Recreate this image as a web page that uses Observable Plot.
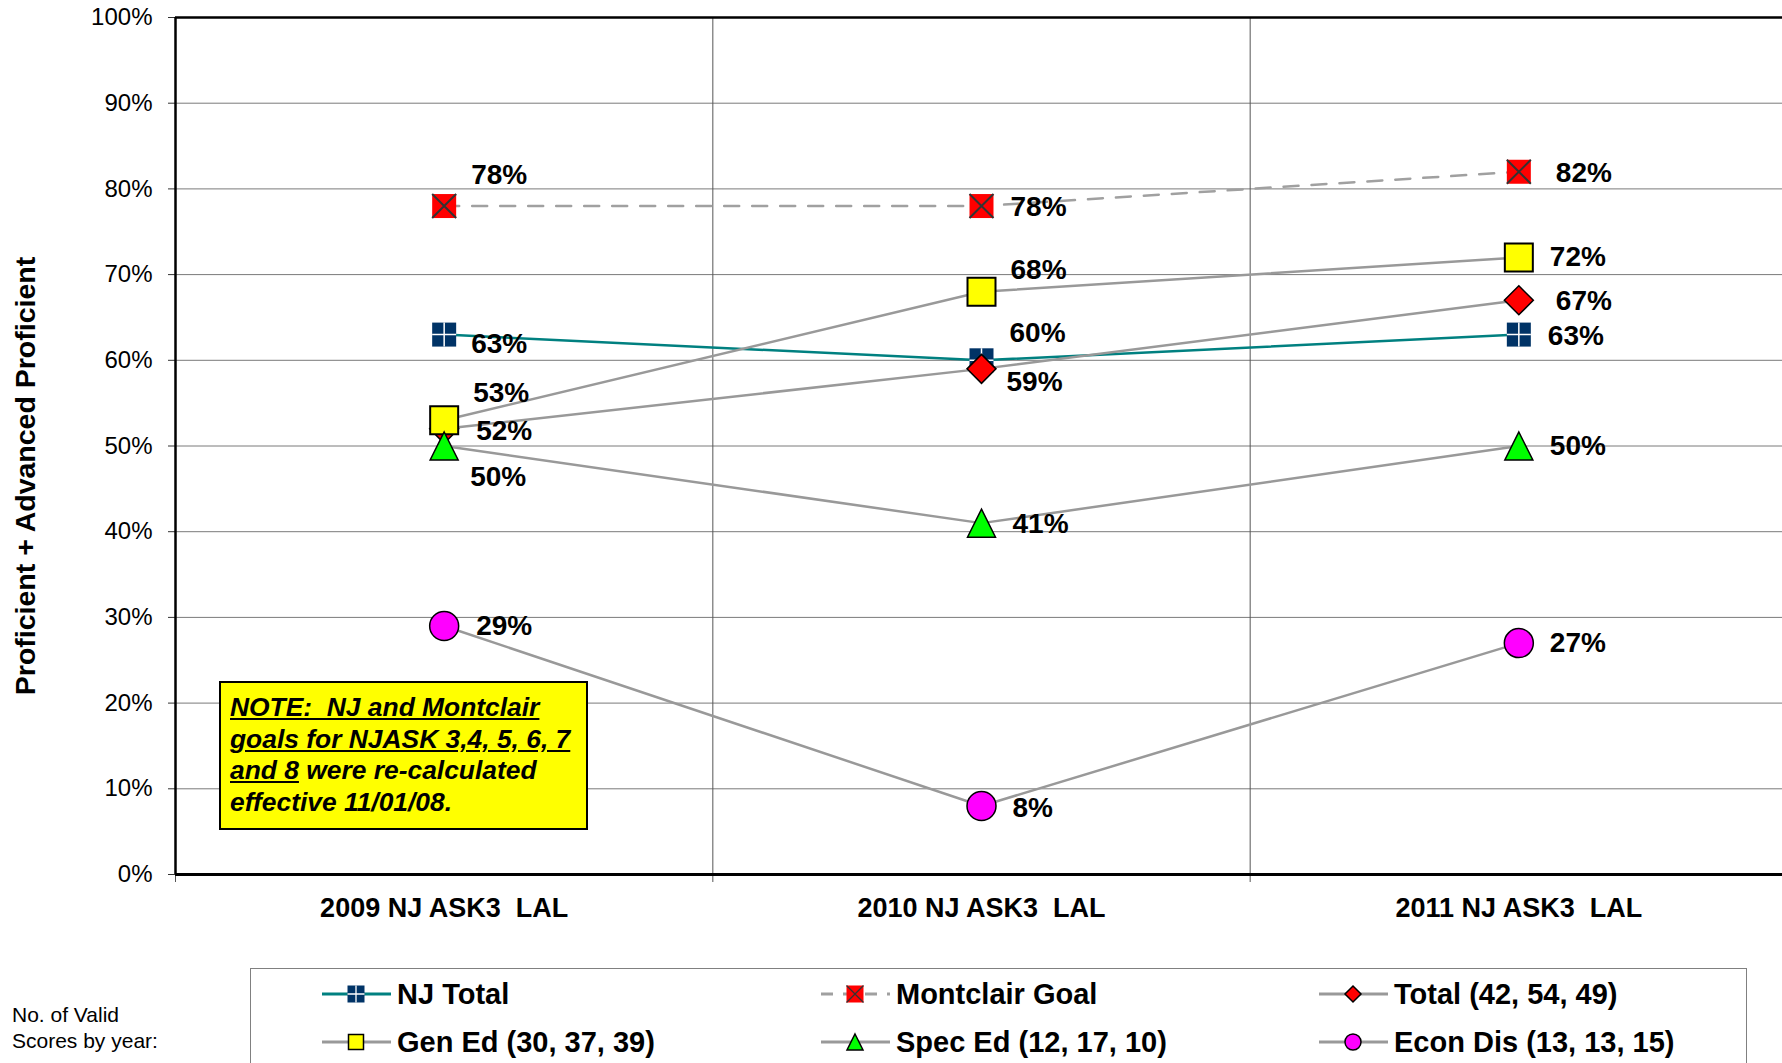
<!DOCTYPE html>
<html>
<head>
<meta charset="utf-8">
<script src="https://cdn.jsdelivr.net/npm/d3@7"></script>
<script src="https://cdn.jsdelivr.net/npm/@observablehq/plot@0.6"></script>
<style>
  html, body { margin: 0; padding: 0; background: #fff; overflow: hidden; }
  body { width: 1782px; height: 1063px; position: relative; font-family: "Liberation Sans", Arial, sans-serif; }
  #chart { position: absolute; left: 0; top: 0; }
  svg text { white-space: pre; }
  .note { position: absolute; left: 219px; top: 681px; width: 369px; height: 149px; box-sizing: border-box;
          border: 2px solid #000; background: #ffff00; padding: 9px 0 0 9px;
          font: italic bold 26.4px/31.7px "Liberation Sans", Arial, sans-serif; white-space: pre; color: #000; }
  .legend { position: absolute; left: 250px; top: 968px; width: 1497px; height: 130px; box-sizing: border-box;
            border: 1.5px solid #808080; background: #fff; }
  .item { position: absolute; height: 30px; display: flex; align-items: center; white-space: pre;
          font: bold 29px "Liberation Sans", Arial, sans-serif; color: #000; }
  .item svg { display: block; margin-right: 5px; }
  .valid { position: absolute; left: 12px; top: 1002px; font: 21px/26px "Liberation Sans", Arial, sans-serif; color: #000; }
</style>
</head>
<body>
<div id="chart"></div>
<script>
// ---------------- data ----------------
const categories = ["2009 NJ ASK3  LAL", "2010 NJ ASK3  LAL", "2011 NJ ASK3  LAL"];
const seriesNames = ["NJ Total", "Montclair Goal", "Total (42, 54, 49)", "Gen Ed (30, 37, 39)", "Spec Ed (12, 17, 10)", "Econ Dis (13, 13, 15)"];
const njTotal       = [0.63, 0.60, 0.63];
const montclairGoal = [0.78, 0.78, 0.82];
const total         = [0.52, 0.59, 0.67];
const genEd         = [0.53, 0.68, 0.72];
const specEd        = [0.50, 0.41, 0.50];
const econDis       = [0.29, 0.08, 0.27];
const yTicks = [0, 0.1, 0.2, 0.3, 0.4, 0.5, 0.6, 0.7, 0.8, 0.9, 1.0];
const yTitle = "Proficient + Advanced Proficient";
const noteLines = [
  [["NOTE:  NJ and Montclair", true]],
  [["goals for NJASK 3,4, 5, 6, 7", true]],
  [["and 8", true], [" were re-calculated", false]],
  [["effective 11/01/08.", false]]
];
const validText = ["No. of Valid", "Scores by year:"];

// ---------------- layout / style ----------------
const seriesValues = [njTotal, montclairGoal, total, genEd, specEd, econDis];
const W = 1782, H = 945;
const fmt = d3.format(".0%");

const unit = size => Math.sqrt(size / Math.PI);
const sym = {
  box:     {draw(c, s) { const r = unit(s); c.rect(-r, -r, 2 * r, 2 * r); }},
  diamond: {draw(c, s) { const r = unit(s); c.moveTo(0, -r); c.lineTo(r, 0); c.lineTo(0, r); c.lineTo(-r, 0); c.closePath(); }},
  tri:     {draw(c, s) { const r = unit(s); c.moveTo(0, -r); c.lineTo(r, r); c.lineTo(-r, r); c.closePath(); }},
  circle:  {draw(c, s) { const r = unit(s); c.moveTo(r, 0); c.arc(0, 0, r, 0, 2 * Math.PI); c.closePath(); }},
  plus:    {draw(c, s) { const r = unit(s); c.moveTo(-r, 0); c.lineTo(r, 0); c.moveTo(0, -r); c.lineTo(0, r); }},
  times:   {draw(c, s) { const r = unit(s); c.moveTo(-r, -r); c.lineTo(r, r); c.moveTo(r, -r); c.lineTo(-r, r); }}
};

const looks = [
  {line: "#008080", lw: 2.5, dash: null,    mark: "box",     r: 12,   fill: "#003366", ms: "none", msw: 0,   over: "plus",  ostroke: "#ffffff", osw: 1.5, legR: 8.5},
  {line: "#a0a0a0", lw: 2.5, dash: "15,13", mark: "box",     r: 12,   fill: "#ff0000", ms: "none", msw: 0,   over: "times", ostroke: "#333333", osw: 2,   legR: 8.5},
  {line: "#999999", lw: 2.5, dash: null,    mark: "diamond", r: 14.5, fill: "#ff0000", ms: "#000",  msw: 1.5, legR: 8},
  {line: "#999999", lw: 2.5, dash: null,    mark: "box",     r: 14,   fill: "#ffff00", ms: "#000",  msw: 2,   legR: 7.5},
  {line: "#999999", lw: 2.5, dash: null,    mark: "tri",     r: 14,   fill: "#00ff00", ms: "#000",  msw: 1.5, legR: 8},
  {line: "#999999", lw: 2.5, dash: null,    mark: "circle",  r: 14.5, fill: "#ff00ff", ms: "#000",  msw: 1.5, legR: 8}
];

// label offsets (px) from each point: [dx, dy] per series per year
const labelNudge = [
  [[27, 9],   [28, -27], [29, 1]],
  [[27, -31], [29, 1],   [37, 1]],
  [[32, 2],   [25, 13],  [37, 1]],
  [[29, -27], [29, -22], [31, 0]],
  [[26, 31],  [31, 1],   [31, 0]],
  [[32, 0],   [31, 2],   [31, 0]]
];

const rows = seriesNames.flatMap((name, s) => seriesValues[s].map((v, i) => ({series: name, s, i, v})));
const idx = categories.map((_, i) => i);
const bounds = d3.range(-0.5, categories.length, 1);
const innerBounds = bounds.filter(b => b > 0 && b < categories.length - 1);

const marks = [];
// grid
marks.push(Plot.gridY(yTicks, {stroke: "#7a7a7a", strokeOpacity: 1, strokeWidth: 1}));
marks.push(Plot.gridX(innerBounds, {stroke: "#555555", strokeOpacity: 1, strokeWidth: 1}));
// x boundary ticks
marks.push(Plot.axisX(bounds, {tickSize: 8, tickFormat: () => "", stroke: "#555555", label: null}));
// category labels
marks.push(Plot.axisX(idx, {tickSize: 0, tickPadding: 23, tickFormat: i => categories[i], fontSize: 27, fontWeight: "bold", label: null}));
// y axis
marks.push(Plot.axisY(yTicks, {tickSize: 7, tickPadding: 16, tickFormat: fmt, fontSize: 24, label: null, stroke: "#333"}));
// frame
marks.push(Plot.ruleY([1], {stroke: "#000", strokeWidth: 2.5}));
marks.push(Plot.ruleX([-0.5], {stroke: "#000", strokeWidth: 2.5}));
marks.push(Plot.ruleY([0], {stroke: "#000", strokeWidth: 3}));
// y title
marks.push(Plot.text([yTitle], {frameAnchor: "left", textAnchor: "middle", rotate: -90, dx: -150, dy: 30, fontSize: 28.5, fontWeight: "bold", fill: "#000"}));
// lines
seriesNames.forEach((name, s) => {
  const L = looks[s];
  marks.push(Plot.line(rows.filter(d => d.s === s), {x: "i", y: "v", stroke: L.line, strokeWidth: L.lw, strokeDasharray: L.dash, curve: "linear"}));
});
// markers
seriesNames.forEach((name, s) => {
  const L = looks[s];
  const data = rows.filter(d => d.s === s);
  marks.push(Plot.dot(data, {x: "i", y: "v", symbol: sym[L.mark], r: L.r, fill: L.fill, stroke: L.ms, strokeWidth: L.msw}));
  if (L.over) marks.push(Plot.dot(data, {x: "i", y: "v", symbol: sym[L.over], r: L.r, fill: "none", stroke: L.ostroke, strokeWidth: L.osw}));
});
// labels
rows.forEach(d => {
  const [dx, dy] = labelNudge[d.s][d.i];
  marks.push(Plot.text([d], {x: "i", y: "v", text: d => fmt(d.v), dx, dy, textAnchor: "start", fontSize: 28, fontWeight: "bold", fill: "#000"}));
});

const chart = Plot.plot({
  width: W, height: H,
  marginLeft: 175, marginRight: 0, marginTop: 17, marginBottom: H - 874,
  x: {type: "linear", domain: [-0.5, categories.length - 0.5], range: [175, 1787]},
  y: {domain: [0, 1], range: [874, 17]},
  style: {fontFamily: "'Liberation Sans', Arial, sans-serif", background: "white", color: "#000", overflow: "visible"},
  marks
});
document.getElementById("chart").appendChild(chart);

// note box
const note = d3.select("body").append("div").attr("class", "note");
noteLines.forEach((parts, k) => {
  parts.forEach(([t, u]) => note.append(u ? "u" : "span").text(t));
  if (k < noteLines.length - 1) note.append("br");
});

// legend
const legend = d3.select("body").append("div").attr("class", "legend");
const colX = [71, 570, 1068], rowY = [25, 73];
seriesNames.forEach((name, s) => {
  const L = looks[s];
  const item = legend.append("div").attr("class", "item")
    .style("left", colX[s % 3] + "px").style("top", (rowY[Math.floor(s / 3)] - 15) + "px");
  const sv = item.append("svg").attr("width", 70).attr("height", 30);
  sv.append("line").attr("x1", 0).attr("x2", 69).attr("y1", 15).attr("y2", 15)
    .attr("stroke", L.line).attr("stroke-width", 3).attr("stroke-dasharray", L.dash ? "12,10" : null);
  const g = sv.append("g").attr("transform", "translate(34,15)");
  g.append("path").attr("d", d3.symbol(sym[L.mark], Math.PI * L.legR * L.legR)())
    .attr("fill", L.fill).attr("stroke", L.ms).attr("stroke-width", L.msw ? 1.5 : 0);
  if (L.over) g.append("path").attr("d", d3.symbol(sym[L.over], Math.PI * L.legR * L.legR)())
    .attr("fill", "none").attr("stroke", L.ostroke).attr("stroke-width", 1.3);
  item.append("span").text(name);
});

// valid scores note
const valid = d3.select("body").append("div").attr("class", "valid");
validText.forEach((t, k) => { valid.append("span").text(t); if (k < validText.length - 1) valid.append("br"); });
</script>
</body>
</html>
